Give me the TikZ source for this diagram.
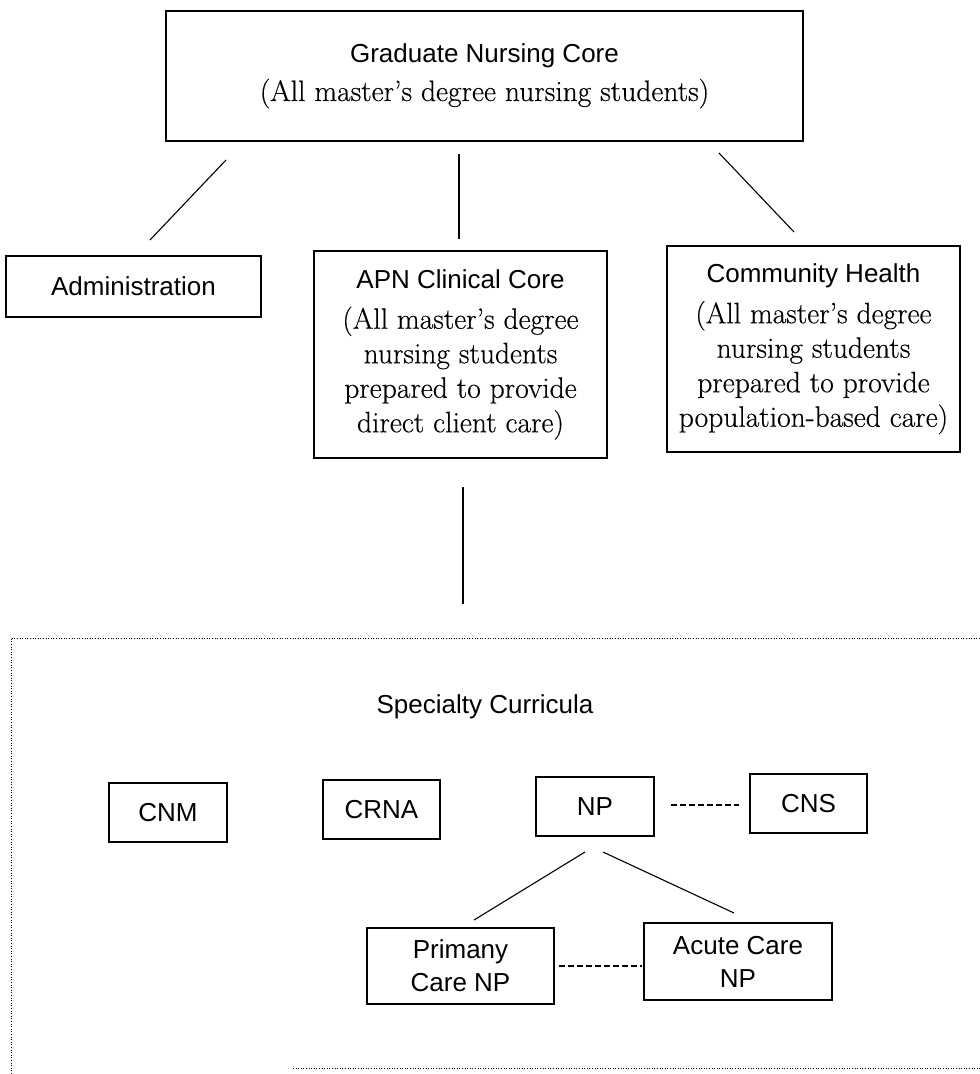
\documentclass[tikz,border=0pt]{standalone}
\usepackage{fontspec}
\newfontfamily\labfont{Liberation Sans}
\newfontfamily\serfont{Latin Modern Roman}[FakeBold=0.4,Ligatures=TeX]
\begin{document}
\begin{tikzpicture}[x=1pt,y=-1pt,
  box/.style={draw, line width=1.2pt, inner sep=0pt, align=center, font=\serfont\fontsize{29.5}{34.5}\selectfont},
  sbox/.style={draw, line width=1.2pt, inner sep=0pt, align=center, font=\labfont\fontsize{26}{33}\selectfont},
  conn/.style={line width=1.1pt},
  dline/.style={line width=1.1pt, dash pattern=on 6pt off 3pt},
  dotbox/.style={line width=0.9pt, dash pattern=on 1pt off 1.6pt},
  lab/.style={font=\labfont\fontsize{26}{33}\selectfont}]
\useasboundingbox (0,0) rectangle (980,1074);
% top level
\node[box, minimum width=637pt, minimum height=130pt] (gnc) at (484.5,76)
  {{\labfont\fontsize{26}{33}\selectfont Graduate Nursing Core}\\[4pt] (All master's degree nursing students)};
\node[sbox, minimum width=255pt, minimum height=61pt] (adm) at (133.5,286.5)
  {Administration};
\node[box, minimum width=293pt, minimum height=207pt] (apn) at (460.5,354.5)
  {{\labfont\fontsize{26}{33}\selectfont APN Clinical Core}\\[6pt] (All master's degree\\ nursing students\\ prepared to provide\\ direct client care)};
\node[box, minimum width=293pt, minimum height=206pt] (com) at (813.5,349)
  {{\labfont\fontsize{26}{33}\selectfont Community Health}\\[6pt] (All master's degree\\ nursing students\\ prepared to provide\\ population-based care)};
% connectors top
\coordinate (c1a) at (226,160); \coordinate (c1b) at (150,240);
\coordinate (c2a) at (459,154); \coordinate (c2b) at (459,239);
\coordinate (c3a) at (719,153); \coordinate (c3b) at (794,232);
\coordinate (c4a) at (463,487); \coordinate (c4b) at (463,604);
\draw[conn] (c1a) -- (c1b);
\draw[conn] (c2a) -- (c2b);
\draw[conn] (c3a) -- (c3b);
\draw[conn] (c4a) -- (c4b);
% dotted region
\draw[dotbox] (11,1074) -- (11,638) -- (980,638);
\draw[dotbox] (293,1068) -- (980,1068);
\node[lab] (spec) at (485,707) {Specialty Curricula};
% specialty boxes
\node[sbox, minimum width=118pt, minimum height=59pt] (cnm) at (168,812.5) {CNM};
\node[sbox, minimum width=117pt, minimum height=59pt] (crna) at (381.5,809.5) {CRNA};
\node[sbox, minimum width=118pt, minimum height=59pt] (np) at (595,806.5) {NP};
\node[sbox, minimum width=117pt, minimum height=59pt] (cns) at (808.5,803.5) {CNS};
\node[sbox, minimum width=187pt, minimum height=76pt] (pcnp) at (460.5,966) {Primany\\ Care NP};
\node[sbox, minimum width=188pt, minimum height=77pt] (acnp) at (738,961.5) {Acute Care\\ NP};
% connectors bottom
\coordinate (d1a) at (671,805); \coordinate (d1b) at (739,805);
\coordinate (d2a) at (559,966); \coordinate (d2b) at (642,966);
\coordinate (n1a) at (585,852); \coordinate (n1b) at (474,920);
\coordinate (n2a) at (603,852); \coordinate (n2b) at (734,913);
\draw[dline] (d1a) -- (d1b);
\draw[dline] (d2a) -- (d2b);
\draw[conn] (n1a) -- (n1b);
\draw[conn] (n2a) -- (n2b);
\end{tikzpicture}
\end{document}
